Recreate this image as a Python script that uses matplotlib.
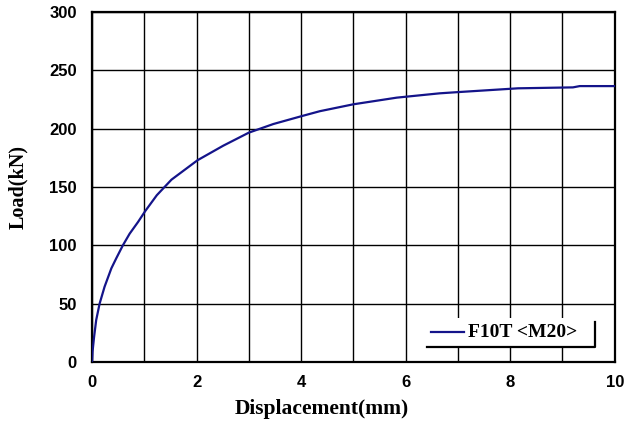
import matplotlib.pyplot as plt
from matplotlib.patches import Rectangle
from matplotlib.lines import Line2D

# load-displacement curve of the bolt specimen
disp = [0.0, 0.01, 0.04, 0.08, 0.145, 0.24, 0.37, 0.465, 0.59, 0.72, 0.88, 1.02, 1.24,
        1.52, 2.02, 2.51, 3.0, 3.47, 4.03, 4.36, 5.0, 5.83, 6.65, 7.02,
        8.15, 9.2, 9.33, 10.0]
load = [0.0, 9.0, 21.7, 36.0, 50.0, 64.5, 80.3, 89.0, 100.0, 110.0, 120.0, 129.5, 143.0,
        156.3, 173.0, 185.4, 196.6, 204.0, 211.0, 215.0, 220.9, 226.6, 230.3, 231.4,
        234.6, 235.4, 236.5, 236.5]
series_name = "F10T <M20>"

x_ticks = [0, 2, 4, 6, 8, 10]
y_ticks = [0, 50, 100, 150, 200, 250, 300]

fig = plt.figure(figsize=(6.26, 4.23), dpi=100)
ax = fig.add_axes([0.147, 0.1442, 0.835, 0.8274])

ax.plot(disp, load, color="#14148a", lw=1.6, zorder=3)

ax.set_xlim(0, 10)
ax.set_ylim(0, 300)
ax.set_xticks(x_ticks)
ax.set_yticks(y_ticks)
ax.set_xticks(range(0, 11), minor=True)
ax.grid(True, which="both", axis="x", color="black", lw=1.0)
ax.grid(True, which="major", axis="y", color="black", lw=1.0)
ax.tick_params(which="both", length=0)
ax.tick_params(axis="y", pad=11)
ax.tick_params(axis="x", pad=9)
for lab in ax.get_xticklabels() + ax.get_yticklabels():
    lab.set_fontfamily("Liberation Sans")
    lab.set_fontsize(12)
    lab.set_fontweight("bold")
for sp in ax.spines.values():
    sp.set_linewidth(1.6)
    sp.set_color("black")

ax.set_xlabel("Displacement(mm)", family="Liberation Serif", fontweight="bold",
              fontsize=15.5, labelpad=7, x=0.44)
ax.set_ylabel("Load(kN)", family="Liberation Serif", fontweight="bold",
              fontsize=14.5, labelpad=15)

# legend box with shadow edges on the bottom and right
bx0, by0, bw, bh = 0.64, 0.043, 0.322, 0.083
ax.add_patch(Rectangle((bx0, by0), bw, bh, transform=ax.transAxes,
                       facecolor="white", edgecolor="none", zorder=4))
ax.add_line(Line2D([bx0, bx0 + bw, bx0 + bw], [by0, by0, by0 + bh * 0.85],
                   transform=ax.transAxes, color="black", lw=1.6, zorder=5))
ax.add_line(Line2D([0.648, 0.711], [by0 + bh * 0.5, by0 + bh * 0.5],
                   transform=ax.transAxes, color="#14148a", lw=1.6, zorder=5))
ax.text(0.72, by0 + bh * 0.5, series_name, transform=ax.transAxes,
        family="Liberation Serif", fontweight="bold", fontsize=14,
        va="center", ha="left", zorder=5)

fig.savefig("out.png", dpi=100)
